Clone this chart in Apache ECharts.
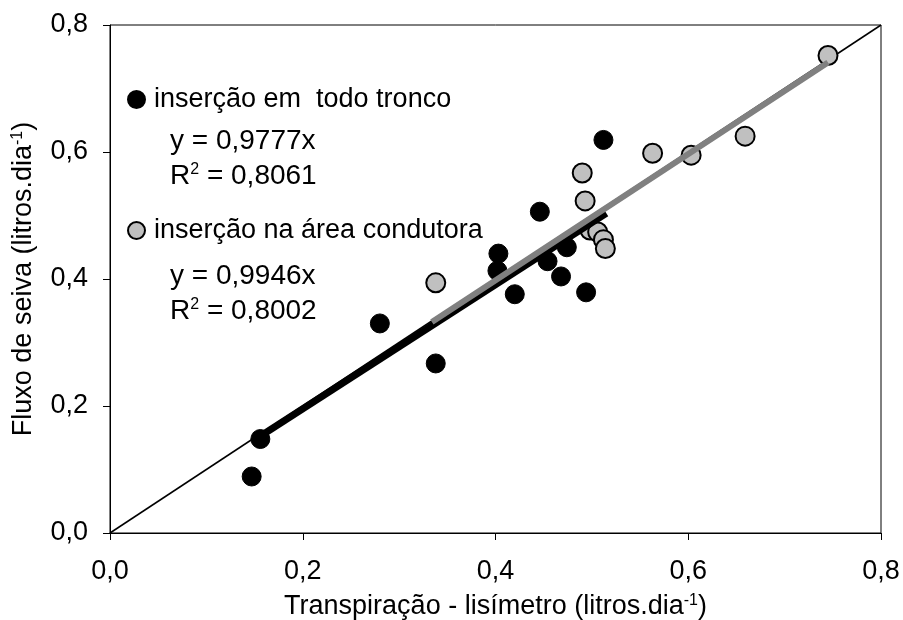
<!DOCTYPE html>
<html>
<head>
<meta charset="utf-8">
<script src="https://cdn.jsdelivr.net/npm/echarts@6/dist/echarts.min.js"></script>
<style>
  html, body { margin: 0; padding: 0; background: #fff; }
  #chart { width: 903px; height: 620px; }
</style>
</head>
<body>
<div id="chart"></div>
<script>
// measured points (x = transpiração lisímetro, y = fluxo de seiva)
const troncoPts = [
  [0.147, 0.089], [0.156, 0.148], [0.280, 0.330], [0.338, 0.267],
  [0.403, 0.440], [0.402, 0.413], [0.420, 0.376], [0.446, 0.506],
  [0.454, 0.428], [0.468, 0.404], [0.474, 0.450], [0.494, 0.379],
  [0.512, 0.619]
];
const condutoraPts = [
  [0.338, 0.394], [0.490, 0.567], [0.493, 0.523], [0.498, 0.477],
  [0.506, 0.474], [0.512, 0.462], [0.514, 0.448], [0.563, 0.598],
  [0.603, 0.595], [0.659, 0.625], [0.745, 0.752]
];
// regression fits through origin and their x range
const troncoSlope = 0.9777;
const troncoRange = [0.155, 0.515];
const condutoraSlope = 0.9946;
const condutoraRange = [0.334, 0.745];
const oneToOne = [[0, 0], [0.8, 0.8]];

const FONT = '"Liberation Sans", Arial, sans-serif';
const fmt = v => v.toFixed(1).replace('.', ',');
const fitLine = (slope, range) => range.map(x => [x, slope * x]);
const supStyle = {fontSize: 16, verticalAlign: 'top', padding: [0, 0, 12, 0], color: '#000', fill: '#000'};

const chart = echarts.init(document.getElementById('chart'));
chart.setOption({
  animation: false,
  textStyle: {fontFamily: FONT, color: '#000'},
  grid: {
    left: 110, right: 22, top: 25, bottom: 87,
    outerBoundsMode: 'none', containLabel: false,
    show: true, borderColor: '#000', borderWidth: 1
  },
  legend: {
    orient: 'vertical',
    left: 122, top: 81,
    itemGap: 104,
    itemWidth: 17, itemHeight: 17,
    icon: 'circle',
    textStyle: {fontSize: 27, fontFamily: FONT, color: '#000', padding: [0, 0, 0, 4]},
    data: ['inserção em  todo tronco', 'inserção na área condutora']
  },
  xAxis: {
    type: 'value', min: 0, max: 0.8, interval: 0.2,
    name: 'Transpiração - lisímetro (litros.dia{sup|-1})',
    nameLocation: 'middle', nameGap: 60,
    nameTextStyle: {fontSize: 27, color: '#000', fontFamily: FONT, rich: {sup: supStyle}},
    axisLine: {lineStyle: {color: '#000', width: 1}},
    axisTick: {show: true, length: 7, lineStyle: {color: '#000'}},
    axisLabel: {fontSize: 27, color: '#000', margin: 25, formatter: fmt},
    splitLine: {show: false}
  },
  yAxis: {
    type: 'value', min: 0, max: 0.8, interval: 0.2,
    name: 'Fluxo de seiva (litros.dia{sup|-1})',
    nameLocation: 'middle', nameGap: 72,
    nameTextStyle: {fontSize: 27, color: '#000', fontFamily: FONT, rich: {sup: supStyle}},
    axisLine: {lineStyle: {color: '#000', width: 1}},
    axisTick: {show: true, length: 7, lineStyle: {color: '#000'}},
    axisLabel: {fontSize: 27, color: '#000', margin: 22, formatter: fmt},
    splitLine: {show: false}
  },
  graphic: [
    {type: 'text', left: 170, top: 127, style: {text: 'y = 0,9777x', font: '28px ' + FONT, fill: '#000'}},
    {type: 'text', left: 170, top: 162, style: {
      text: 'R{s|2} = 0,8061', font: '28px ' + FONT, fill: '#000', rich: {s: supStyle}}},
    {type: 'text', left: 170, top: 262, style: {text: 'y = 0,9946x', font: '28px ' + FONT, fill: '#000'}},
    {type: 'text', left: 170, top: 297, style: {
      text: 'R{s|2} = 0,8002', font: '28px ' + FONT, fill: '#000', rich: {s: supStyle}}}
  ],
  series: [
    {
      type: 'line', data: oneToOne, symbol: 'none', silent: true, z: 1,
      lineStyle: {color: '#000', width: 1.5}
    },
    {
      name: 'inserção em  todo tronco', type: 'scatter', data: troncoPts,
      symbol: 'circle', symbolSize: 19, z: 2,
      itemStyle: {color: '#000', borderColor: '#000', borderWidth: 1, opacity: 1}
    },
    {
      name: 'inserção na área condutora', type: 'scatter', data: condutoraPts,
      symbol: 'circle', symbolSize: 19, z: 2,
      itemStyle: {color: '#c0c0c0', borderColor: '#000', borderWidth: 2, opacity: 1}
    },
    {
      type: 'line', data: fitLine(troncoSlope, troncoRange), symbol: 'none', silent: true, z: 3,
      lineStyle: {color: '#000', width: 7}
    },
    {
      type: 'line', data: fitLine(condutoraSlope, condutoraRange), symbol: 'none', silent: true, z: 4,
      lineStyle: {color: '#808080', width: 6}
    }
  ]
});
</script>
</body>
</html>
